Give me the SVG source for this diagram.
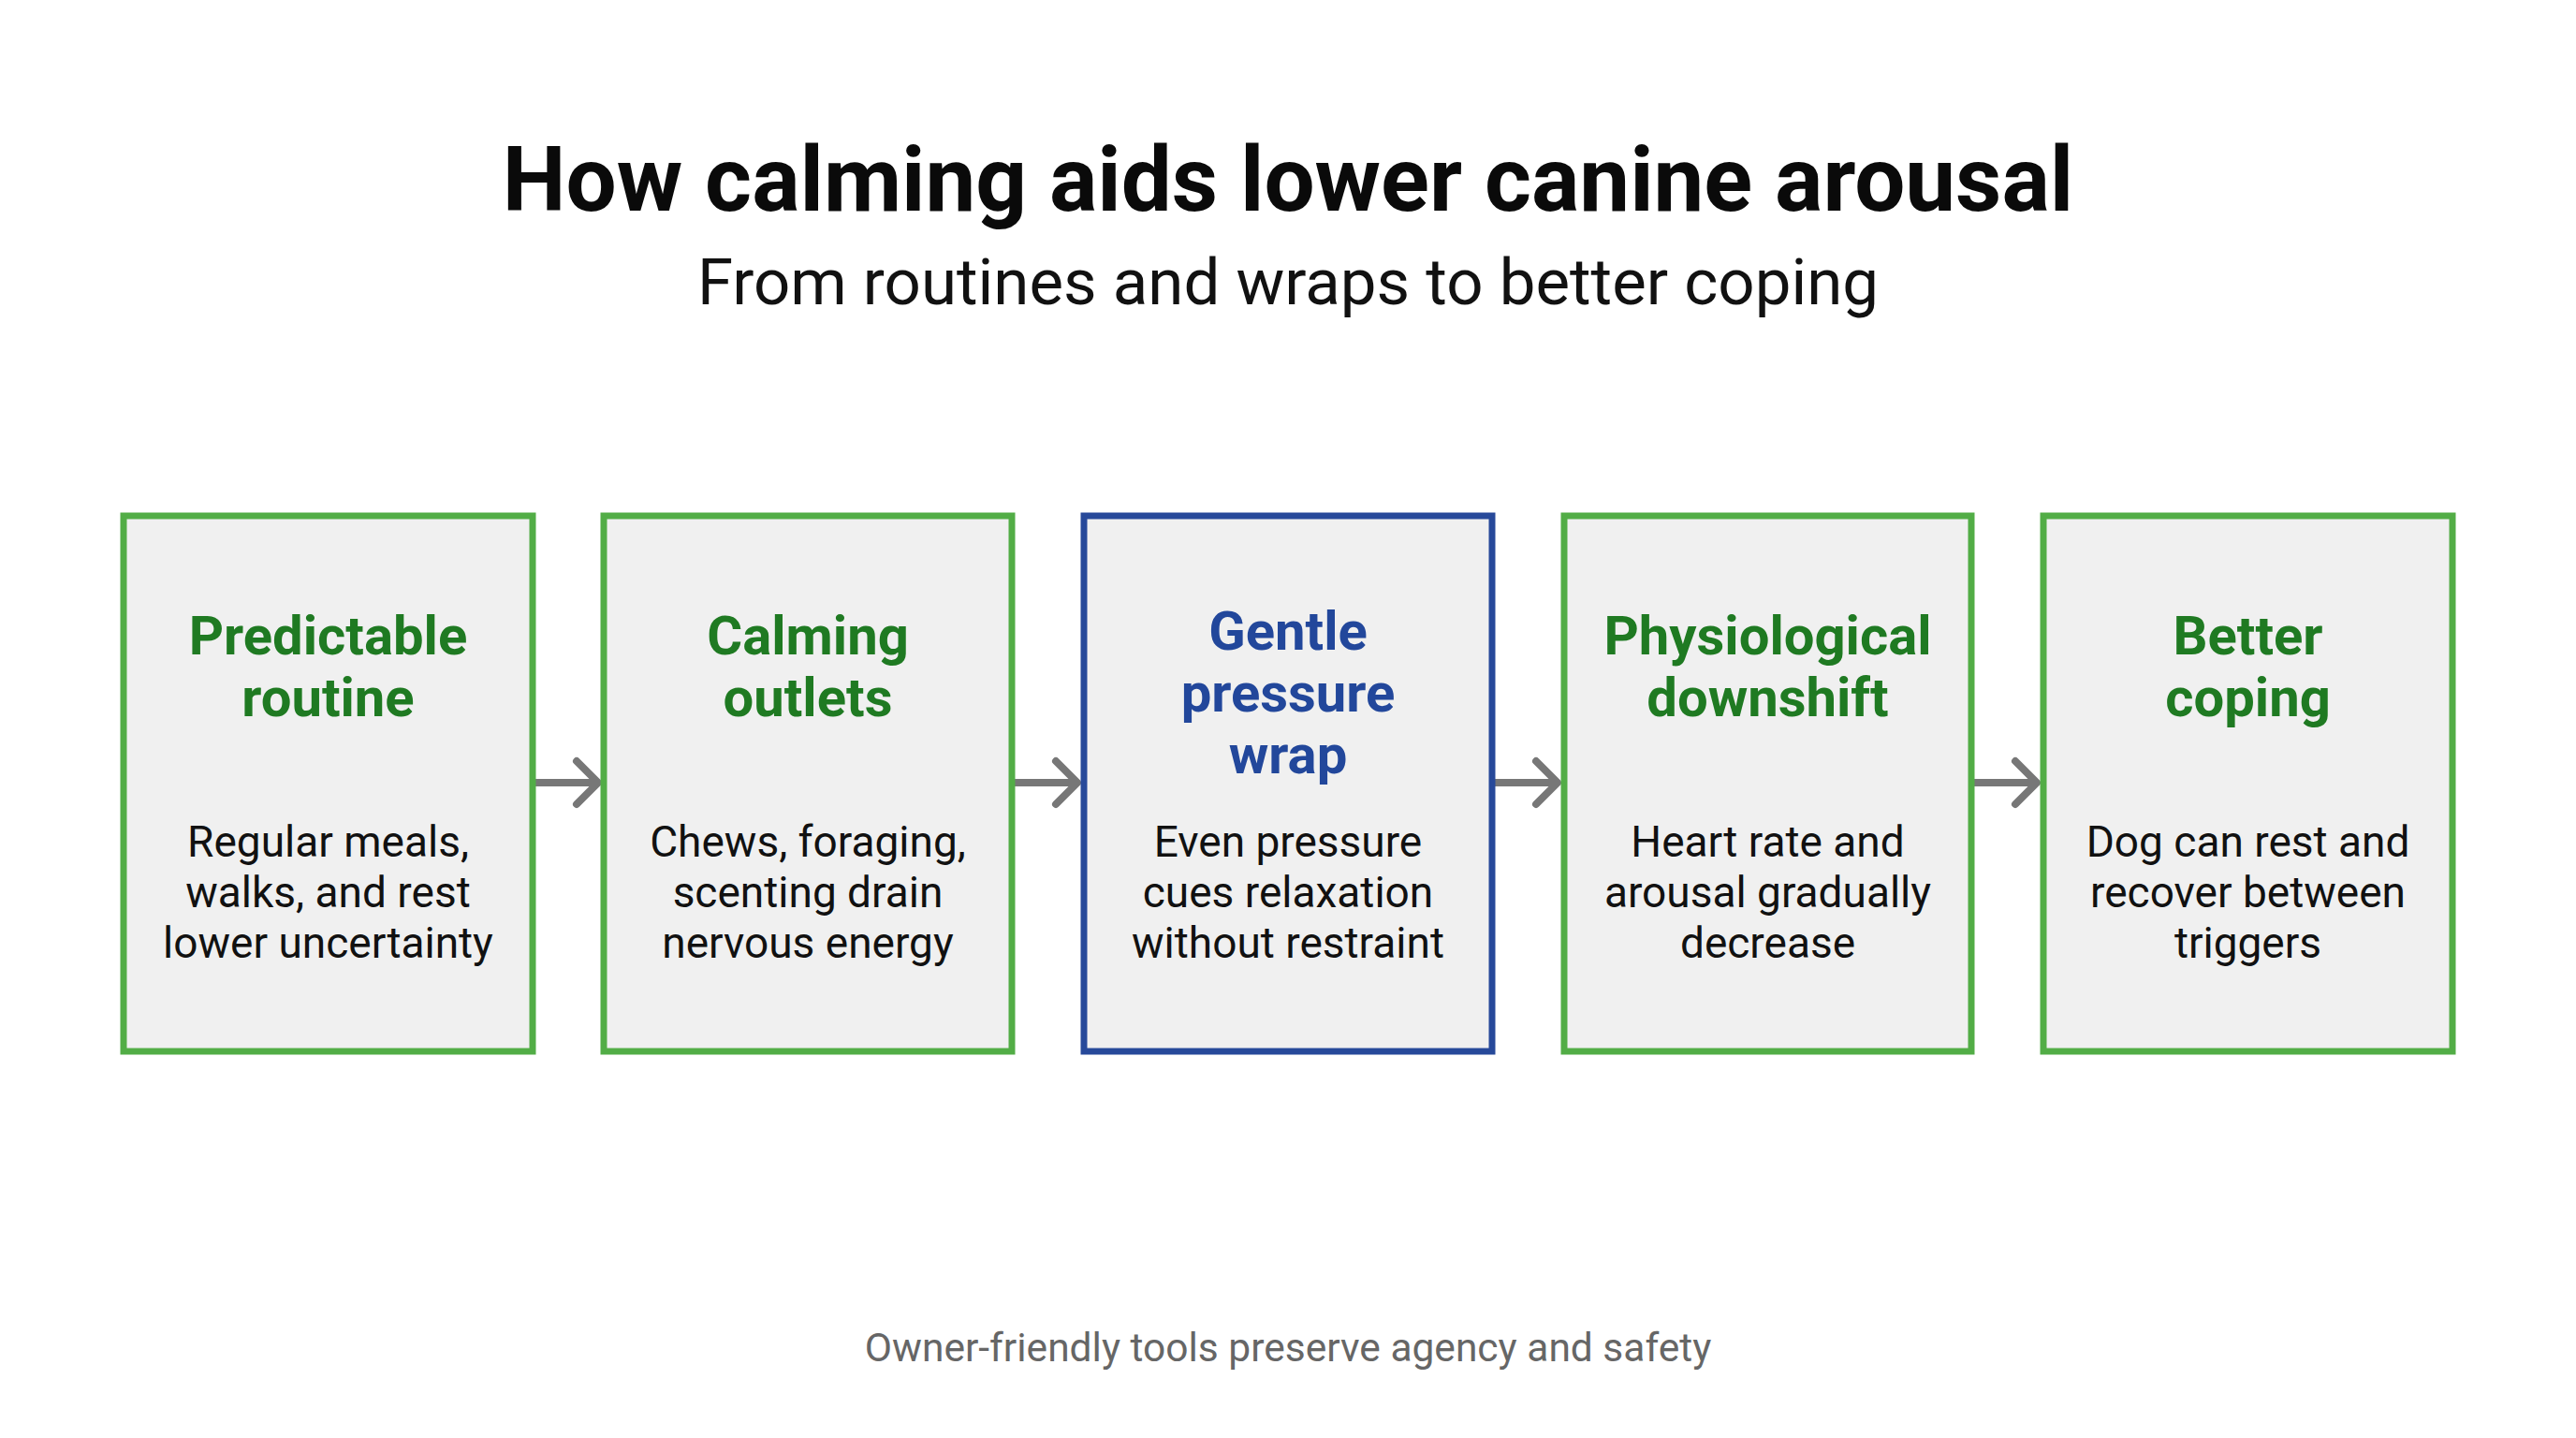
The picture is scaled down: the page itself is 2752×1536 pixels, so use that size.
<svg xmlns="http://www.w3.org/2000/svg" width="2752" height="1536" viewBox="0 0 2752 1536">
<style>
.bg{fill:#ffffff}
.box{fill:#f0f0f0;stroke-width:7}
.g{stroke:#52ad46}
.b{stroke:#27499a}
.t{font-family:Roboto,"Liberation Sans",sans-serif;text-anchor:middle}
.h{font-weight:700;font-size:58px}
.hg{fill:#1f7a22}
.hb{fill:#22479b}
.body{font-size:46px;fill:#111111}
.conn{stroke:#777777;stroke-width:8;fill:none;stroke-linecap:round;stroke-linejoin:round}
</style>
<rect class="bg" x="0" y="0" width="2752" height="1536"/>
<text class="t" x="1376" y="225" font-size="96" font-weight="700" fill="#0a0a0a">How calming aids lower canine arousal</text>
<text class="t" x="1376" y="325" font-size="69" fill="#111111">From routines and wraps to better coping</text>
<g id="connectors">
<path class="conn" d="M569 836 H638 M616 813 L639 836 L616 859"/>
<path class="conn" d="M1081 836 H1150 M1128 813 L1151 836 L1128 859"/>
<path class="conn" d="M1594 836 H1663 M1641 813 L1664 836 L1641 859"/>
<path class="conn" d="M2106 836 H2175 M2153 813 L2176 836 L2153 859"/>
</g>
<g id="node1">
<rect class="box g" x="132" y="551" width="437" height="572"/>
<text class="t h hg" x="350.5" y="699">Predictable</text>
<text class="t h hg" x="350.5" y="765">routine</text>
<text class="t body" x="350.5" y="915">Regular meals,</text>
<text class="t body" x="350.5" y="969">walks, and rest</text>
<text class="t body" x="350.5" y="1023">lower uncertainty</text>
</g>
<g id="node2">
<rect class="box g" x="645" y="551" width="436" height="572"/>
<text class="t h hg" x="863" y="699">Calming</text>
<text class="t h hg" x="863" y="765">outlets</text>
<text class="t body" x="863" y="915">Chews, foraging,</text>
<text class="t body" x="863" y="969">scenting drain</text>
<text class="t body" x="863" y="1023">nervous energy</text>
</g>
<g id="node3">
<rect class="box b" x="1158" y="551" width="436" height="572"/>
<text class="t h hb" x="1376" y="694">Gentle</text>
<text class="t h hb" x="1376" y="760">pressure</text>
<text class="t h hb" x="1376" y="826">wrap</text>
<text class="t body" x="1376" y="915">Even pressure</text>
<text class="t body" x="1376" y="969">cues relaxation</text>
<text class="t body" x="1376" y="1023">without restraint</text>
</g>
<g id="node4">
<rect class="box g" x="1671" y="551" width="435" height="572"/>
<text class="t h hg" x="1888.5" y="699">Physiological</text>
<text class="t h hg" x="1888.5" y="765">downshift</text>
<text class="t body" x="1888.5" y="915">Heart rate and</text>
<text class="t body" x="1888.5" y="969">arousal gradually</text>
<text class="t body" x="1888.5" y="1023">decrease</text>
</g>
<g id="node5">
<rect class="box g" x="2183" y="551" width="437" height="572"/>
<text class="t h hg" x="2401.5" y="699">Better</text>
<text class="t h hg" x="2401.5" y="765">coping</text>
<text class="t body" x="2401.5" y="915">Dog can rest and</text>
<text class="t body" x="2401.5" y="969">recover between</text>
<text class="t body" x="2401.5" y="1023">triggers</text>
</g>
<text class="t" x="1376" y="1454" font-size="42.5" fill="#666666">Owner-friendly tools preserve agency and safety</text>
</svg>
